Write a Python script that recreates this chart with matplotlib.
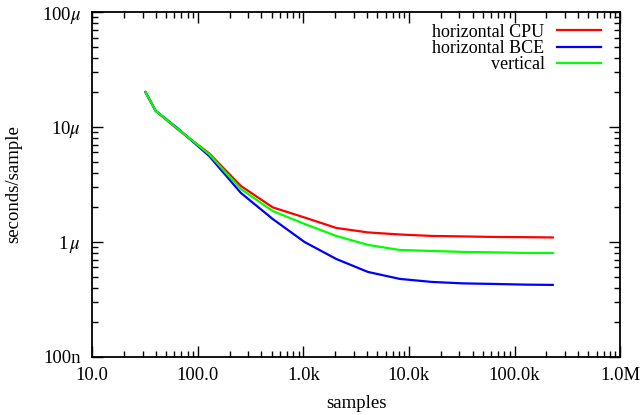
import matplotlib
matplotlib.use("Agg")
import matplotlib.pyplot as plt
from matplotlib.ticker import FixedLocator, LogLocator, NullFormatter

plt.rcParams['font.family'] = ['Liberation Serif', 'DejaVu Serif']
plt.rcParams['mathtext.fontset'] = 'stix'

samples = [32, 40, 64, 128, 256, 512, 1024, 2048, 4096, 8192, 16384, 32768, 65536, 131072, 230000]
cpu = [20.1e-6, 13.8e-6, 9.6e-6, 5.9e-6, 3.07e-6, 2.00e-6, 1.633e-6, 1.324e-6, 1.21e-6, 1.161e-6, 1.128e-6, 1.117e-6, 1.105e-6, 1.10e-6, 1.094e-6]
bce = [20.1e-6, 13.8e-6, 9.8e-6, 5.6e-6, 2.67e-6, 1.585e-6, 1.00e-6, 0.711e-6, 0.548e-6, 0.477e-6, 0.449e-6, 0.436e-6, 0.431e-6, 0.425e-6, 0.423e-6]
vert = [20.1e-6, 13.8e-6, 9.7e-6, 5.8e-6, 2.89e-6, 1.86e-6, 1.435e-6, 1.128e-6, 0.942e-6, 0.851e-6, 0.835e-6, 0.819e-6, 0.811e-6, 0.802e-6, 0.802e-6]

xticks = [10, 100, 1000, 1e4, 1e5, 1e6]
xticklabels = ['10.0', '100.0', '1.0k', '10.0k', '100.0k', '1.0M']
yticks = [1e-7, 1e-6, 1e-5, 1e-4]
yticklabels = ['100n', r'1$\,\mu$', r'10$\mu$', r'100$\mu$']

fig = plt.figure(figsize=(6.4, 4.15), dpi=100)
ax = fig.add_axes([0.144, 0.140, 0.825, 0.831])

ax.plot(samples, cpu, color='#ff0000', lw=1.6, label='horizontal CPU')
ax.plot(samples, bce, color='#0000ff', lw=1.6, label='horizontal BCE')
ax.plot(samples, vert, color='#00ff00', lw=1.6, label='vertical')

ax.set_xscale('log')
ax.set_yscale('log')
ax.set_xlim(10, 1e6)
ax.set_ylim(1e-7, 1e-4)

ax.xaxis.set_major_locator(FixedLocator(xticks))
ax.set_xticklabels(xticklabels)
ax.yaxis.set_major_locator(FixedLocator(yticks))
ax.set_yticklabels(yticklabels)
ax.xaxis.set_minor_locator(LogLocator(base=10, subs=range(2, 10)))
ax.yaxis.set_minor_locator(LogLocator(base=10, subs=range(2, 10)))
ax.xaxis.set_minor_formatter(NullFormatter())
ax.yaxis.set_minor_formatter(NullFormatter())

ax.tick_params(which='both', direction='in', top=True, right=True, labelsize=13.5, width=1)
ax.tick_params(axis='x', which='major', length=8, pad=7)
ax.tick_params(axis='y', which='major', length=8, pad=8)
ax.tick_params(which='minor', length=4)
for s in ax.spines.values():
    s.set_linewidth(1.3)

ax.set_xlabel('samples', fontsize=13.5, labelpad=8)
ax.set_ylabel('seconds/sample', fontsize=13.5, labelpad=14)

ax.legend(loc='upper right', frameon=False, markerfirst=False, fontsize=13,
          handlelength=2.4, handletextpad=0.7, labelspacing=-0.05,
          borderaxespad=0.25, bbox_to_anchor=(0.985, 1.0))

fig.savefig('out.png', dpi=100)
